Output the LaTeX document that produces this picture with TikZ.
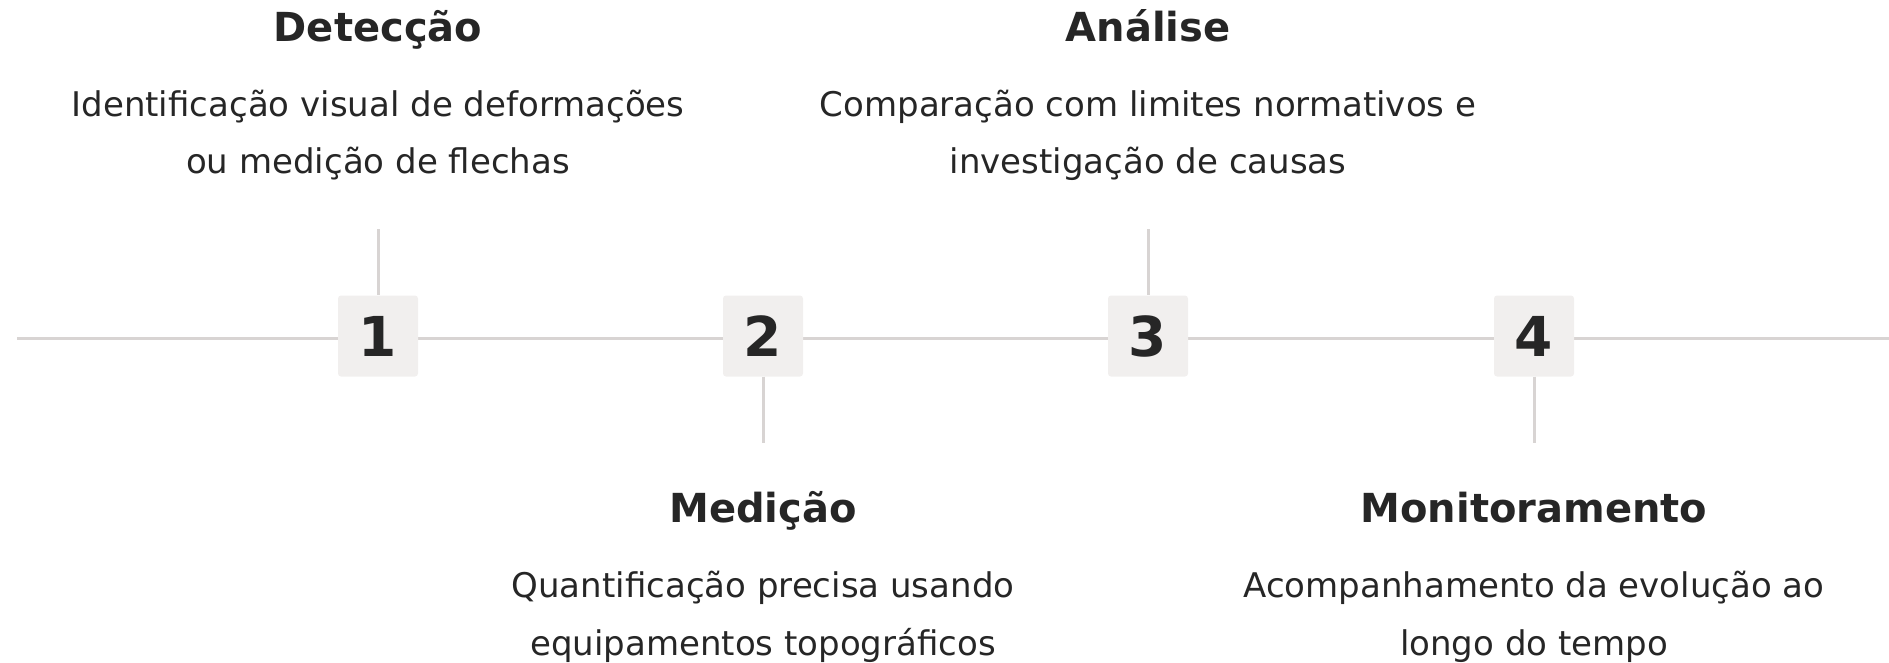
\documentclass[tikz,border=0pt]{standalone}
\usepackage{fontspec}
\setmainfont{DejaVu Sans}
\definecolor{linegray}{HTML}{D8D4D3}
\definecolor{boxfill}{HTML}{F1EFEE}
\definecolor{ink}{HTML}{262626}
\tikzset{
  numbox/.style={fill=boxfill, rounded corners=3pt, minimum width=80pt, minimum height=81pt, inner sep=0pt, text=ink, font=\fontsize{55}{60}\selectfont\bfseries},
  title/.style={anchor=base, text=ink, inner sep=0pt, font=\fontsize{40}{44}\selectfont\bfseries},
  desc/.style={anchor=base, text=ink, inner sep=0pt, font=\fontsize{34}{40}\selectfont},
  conn/.style={draw=linegray, line width=3pt}
}
\begin{document}
\begin{tikzpicture}[x=1pt,y=-1pt]
\useasboundingbox (0,0) rectangle (1889,662);
\coordinate (L) at (17,338);
\coordinate (R) at (1889,338);
\draw[conn] (L) -- (R);
\coordinate (t1) at (378,229);
\coordinate (t2) at (763,443);
\coordinate (t3) at (1148,229);
\coordinate (t4) at (1534,443);
\node[numbox] (n1) at (378,336) {1};
\node[numbox] (n2) at (763,336) {2};
\node[numbox] (n3) at (1148,336) {3};
\node[numbox] (n4) at (1534,336) {4};
\draw[conn] (t1) -- (n1.north);
\draw[conn] (t3) -- (n3.north);
\draw[conn] (n2.south) -- (t2);
\draw[conn] (n4.south) -- (t4);
\node[title] (h1) at (378,41) {Detecção};
\node[desc] (d1a) at (378,116) {Identificação visual de deformações};
\node[desc] (d1b) at (378,173) {ou medição de flechas};
\node[title] (h3) at (1148,41) {Análise};
\node[desc] (d3a) at (1148,116) {Comparação com limites normativos e};
\node[desc] (d3b) at (1148,173) {investigação de causas};
\node[title] (h2) at (763,522) {Medição};
\node[desc] (d2a) at (763,597) {Quantificação precisa usando};
\node[desc] (d2b) at (763,655) {equipamentos topográficos};
\node[title] (h4) at (1534,522) {Monitoramento};
\node[desc] (d4a) at (1534,597) {Acompanhamento da evolução ao};
\node[desc] (d4b) at (1534,655) {longo do tempo};
\end{tikzpicture}
\end{document}
